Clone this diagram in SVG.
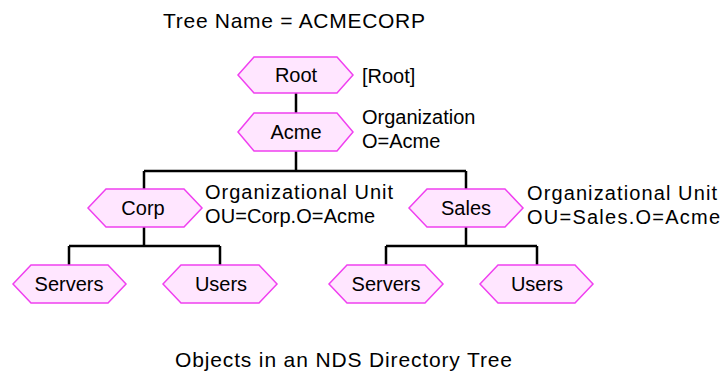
<svg xmlns="http://www.w3.org/2000/svg" width="722" height="372" viewBox="0 0 722 372">
<style>
text{font-family:"Liberation Sans",Arial,sans-serif;font-size:20px;fill:#000}
.c{text-anchor:middle}
.t{font-size:21px}
.hex{fill:#ffe6ff;stroke:#f040f0;stroke-width:1.5}
.ln{fill:none;stroke:#000;stroke-width:2.5}
</style>
<rect width="722" height="372" fill="#fff"/>
<text x="163" y="28" class="t" textLength="262">Tree Name = ACMECORP</text>
<g id="connectors">
<path class="ln" d="M296 93V113M296 151V171M144 171H466M144 171V189M466 171V189M144 227V246M69 246H220M69 246V265M220 246V265M466 227V246M386 246H537M386 246V265M537 246V265"/>
</g>
<g id="root"><polygon class="hex" points="238,75 254,57 337,57 353,75 337,93 254,93"/><text x="296" y="82" class="c">Root</text></g>
<text x="362" y="83">[Root]</text>
<g id="acme"><polygon class="hex" points="238,132 254,113 337,113 353,132 337,151 254,151"/><text x="296" y="139" class="c">Acme</text></g>
<text x="362" y="124">Organization</text>
<text x="362" y="148">O=Acme</text>
<g id="corp"><polygon class="hex" points="88,208 106,189 184,189 202,208 184,227 106,227"/><text x="143" y="215" class="c">Corp</text></g>
<text x="205" y="199" textLength="188">Organizational Unit</text>
<text x="205" y="223" textLength="170">OU=Corp.O=Acme</text>
<g id="sales"><polygon class="hex" points="409,208 427,189 505,189 523,208 505,227 427,227"/><text x="466" y="215" class="c">Sales</text></g>
<text x="527" y="200" textLength="190">Organizational Unit</text>
<text x="527" y="224" textLength="193">OU=Sales.O=Acme</text>
<g id="corp-servers"><polygon class="hex" points="13,284 31,265 108,265 126,284 108,303 31,303"/><text x="69" y="291" class="c">Servers</text></g>
<g id="corp-users"><polygon class="hex" points="163,284 181,265 259,265 277,284 259,303 181,303"/><text x="221" y="291" class="c">Users</text></g>
<g id="sales-servers"><polygon class="hex" points="329,284 347,265 425,265 443,284 425,303 347,303"/><text x="386" y="291" class="c">Servers</text></g>
<g id="sales-users"><polygon class="hex" points="480,284 498,265 575,265 593,284 575,303 498,303"/><text x="537" y="291" class="c">Users</text></g>
<text x="175" y="367" class="t" textLength="337">Objects in an NDS Directory Tree</text>
</svg>
